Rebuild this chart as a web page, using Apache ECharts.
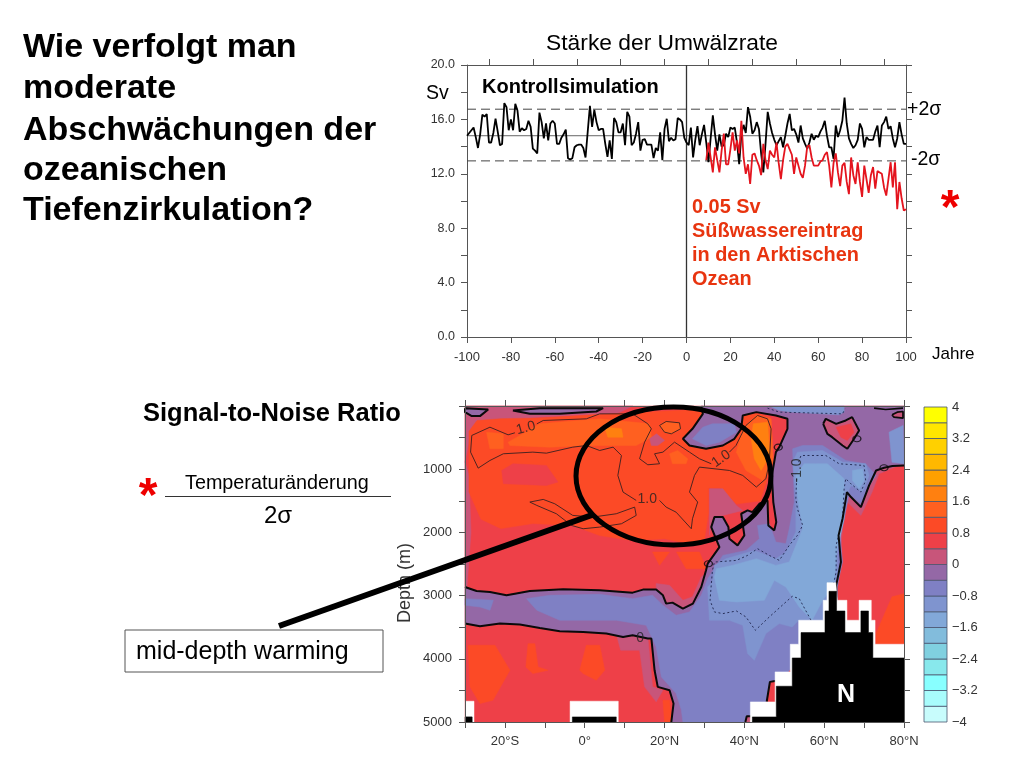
<!DOCTYPE html>
<html>
<head>
<meta charset="utf-8">
<title>Umwälzrate</title>
<script src="https://cdn.jsdelivr.net/npm/echarts@6/dist/echarts.min.js"></script>
<style>
  html, body { margin: 0; padding: 0; background: #fff; }
  #chart { width: 1024px; height: 768px; }
</style>
</head>
<body>
<div id="chart"></div>
<script>
// Time series, Sv, one value per year
const controlStartYear = -100;
const controlValues = [
  14.8, 15.0, 15.2, 15.4, 14.7, 13.9, 14.9, 16.35, 16.2, 16.4,
  14.3, 14.3, 15.0, 16.05, 15.1, 14.1, 14.2, 17.2, 16.9, 15.2,
  16.0, 15.2, 17.15, 16.65, 15.1, 15.35, 15.2, 15.3, 15.9, 15.45,
  13.85, 13.7, 13.5, 16.5, 15.8, 14.6, 15.7, 14.45, 15.7, 15.9,
  15.7, 14.2, 14.2, 14.65, 14.9, 15.25, 13.15, 13.05, 13.15, 13.95,
  14.1, 14.15, 14.15, 13.9, 13.2, 15.1, 17.0, 15.45, 16.7, 15.8,
  15.2, 15.3, 15.3, 14.2, 13.25, 14.45, 13.1, 16.1, 15.8, 15.05,
  15.05, 15.7, 14.1, 16.55, 16.2, 14.1, 14.3, 14.95, 15.8, 13.7,
  14.5, 14.55, 14.15, 14.15, 14.15, 13.15, 13.9, 13.7, 15.05, 13.0,
  15.3, 16.05, 14.4, 14.65, 14.45, 14.55, 16.1, 16.0, 15.8, 14.65,
  14.3, 14.1, 15.4, 13.2, 14.5, 15.5, 14.1, 14.9, 15.6, 14.3,
  12.85, 14.6, 16.3, 14.9, 13.7, 14.9, 14.0, 14.1, 14.95, 14.7,
  15.4, 15.3, 15.4, 14.3, 12.7, 14.9, 15.6, 15.0, 16.9, 16.2,
  14.95, 15.2, 15.8, 15.3, 13.5, 12.1, 14.2, 16.55, 15.7, 15.0,
  14.5, 14.1, 14.4, 14.7, 13.95, 14.8, 15.7, 16.4, 15.2, 15.3,
  14.9, 14.3, 15.55, 14.6, 14.2, 13.85, 14.3, 14.95, 14.5, 14.8,
  14.7, 15.1, 15.4, 15.9, 14.8, 13.95, 13.95, 13.1, 15.55, 14.7,
  15.2, 15.9, 17.6, 15.7, 14.6, 14.2, 13.9, 14.1, 14.5, 15.7,
  15.3, 13.95, 14.7, 14.5, 14.5, 14.5, 15.1, 15.55, 13.95, 15.55,
  15.8, 16.2, 15.3, 15.5, 14.6, 13.95, 14.6, 15.8, 14.9, 14.2, 14.2
];
const forcedStartYear = 9;
const forcedValues = [
  13.0, 14.3, 13.2, 12.1, 13.95, 13.0, 12.1, 13.7, 14.95, 12.7,
  12.7, 13.8, 15.05, 13.7, 14.45, 13.5, 15.9, 13.2, 12.0, 12.7,
  11.25, 13.4, 13.5, 13.0, 12.6, 11.9, 14.2, 13.0, 12.35, 13.7,
  13.4, 13.2, 14.3, 12.8, 11.6, 13.0, 14.0, 14.2, 13.8, 13.4,
  12.0, 13.2, 12.6, 12.0, 11.7, 12.6, 14.0, 14.1, 13.2, 12.6,
  12.6, 12.6, 12.9, 13.0, 13.4, 13.6, 12.6, 11.0, 12.8, 13.5,
  12.1, 11.1, 12.6, 12.8, 11.4, 10.5, 13.2, 11.9, 11.25, 12.85,
  11.4, 10.3, 12.6, 11.6, 10.6, 11.9, 12.5, 10.9, 12.2, 12.1,
  12.0, 11.0, 10.4, 11.6, 12.85, 11.0, 12.85, 9.4, 11.4, 10.2,
  9.3, 9.4
];
const controlMean = 14.8;
const upperSigma = 16.75;
const lowerSigma = 12.95;

// Colour scale of the section, from -4 up to 4 in steps of 0.4
const levelBounds = [-4, -3.6, -3.2, -2.8, -2.4, -2, -1.6, -1.2, -0.8, -0.4, 0, 0.4, 0.8, 1.2, 1.6, 2, 2.4, 2.8, 3.2, 3.6, 4];
const levelColors = ['#c8fcfc', '#a8fcfc', '#88ffff', '#88e8ec', '#80d0e0', '#82bcdc', '#82a8d8', '#7f94cf', '#7f80c4', '#9468a6',
  '#c8557a', '#ee4048', '#fc4a26', '#ff6020', '#ff8010', '#ffa000', '#ffb800', '#ffd000', '#ffe600', '#ffff00'];

// Section shapes as [latitude, depth]
const plotFrame = [[-30, 0], [80, 0], [80, 5000], [-30, 5000]];
const mauveTopWest = [[-30, 0], [12, 0], [8, 124], [-11.25, 176], [-19.6, 230], [-26.25, 282], [-28.75, 466], [-30, 888]];
const mauveLeftEdge = [[-30, 888], [-29, 1100], [-28.5, 2000], [-29.5, 2864], [-30, 2864]];
const warmMain = [[-29, 400], [-27, 230], [-21, 200], [-11, 190], [4, 130], [14, 100], [28, 60], [40, 60], [46.5, 180], [47, 500], [46.5, 1000],
  [44, 1500], [38, 1550], [34, 1300], [31, 1300], [31, 1700], [30, 2100], [27, 2200], [24, 2150], [20, 2100], [12, 2130], [3.75, 2050],
  [-3, 1890], [-13, 1860], [-21, 1940], [-26, 1790], [-29, 1360]];
const warmHole = [[-20.8, 1020], [-18, 914], [-9.6, 940], [-6.7, 1204], [-9.6, 1257], [-20.4, 1230]];
const warmSpotA = [[17, 2311], [21.25, 2311], [18.75, 2520]];
const warmSpotB = [[23, 2311], [28.75, 2311], [30.4, 2575], [25.4, 2575]];
const orangeWest = [[-24.6, 414], [-20.4, 440], [-20.4, 677], [-23.75, 677]];
const orangeBand = [[-19.2, 572], [-17, 493], [-11.25, 282], [3.75, 203], [16.25, 282], [16.7, 493], [12.9, 625], [0.4, 625], [-8.75, 651], [-18.75, 625]];
const orangeSmall = [[21.25, 756], [23.3, 704], [25.8, 835], [25.4, 914], [22, 914]];
const orangeEast = [[39.6, 361], [43, 150], [46.7, 203], [47.25, 888], [44.6, 1178], [40.4, 1020], [38, 730]];
const orangeLoop = [[18.75, 308], [20.4, 245], [23.75, 266], [24, 361], [21.7, 440], [20, 414]];
const darkOrangeEast = [[42.25, 282], [45.8, 256], [46.4, 783], [44.2, 1020], [42.5, 835], [41.7, 519]];
const darkOrangeCentral = [[5, 335], [9.2, 361], [9.6, 493], [5.8, 493]];
const mauveSpot = [[16.25, 519], [18, 440], [20, 545], [18.3, 625], [16.7, 625]];
const warmSouthMauve = [[31.25, 1310], [34.6, 1310], [38, 1573], [39.6, 1652], [34.6, 1731], [32, 1784], [31.25, 2047]];
const deepWarmA = [[-29.2, 3786], [-22.5, 3786], [-18.75, 4181], [-23, 4655], [-26.25, 4708], [-28.75, 4444]];
const deepWarmB = [[-14.2, 3760], [-12.5, 3760], [-11.7, 4128], [-9.2, 4181], [-13, 4234], [-14.75, 4128]];
const deepWarmC = [[0.4, 3786], [3.75, 3786], [5, 4181], [2.9, 4339], [-0.4, 4234], [-1.25, 4181]];
const deepWarmD = [[73, 3760], [73, 3600], [77, 3020], [80, 2970], [80, 3760]];
const deepWarmE = [[19.6, 4655], [21.25, 4655], [21.7, 5000], [20, 5000]];
const mauveLower = [[8, 3628], [15.8, 3654], [17, 4444], [19.6, 4497], [17.9, 4681], [15, 4444], [13.75, 3865], [9, 3865]];
const mauveTrough = [[17.9, 2810], [21.25, 2837], [24.6, 3074], [27, 3020], [29.2, 2705], [30.8, 2620], [31, 3000], [22, 3300], [18, 3100]];
const mauveEast = [[79.75, 915], [73.75, 1072], [72, 1362], [69.2, 1731], [65.8, 1520], [64.6, 1942], [64, 2364], [63.5, 2838], [60, 2838], [60, 900]];

// Zero contour, also the edge of the cold water
const zeroWest = [[-30, 2864], [-27.1, 2927], [-23.75, 2943], [-19.6, 2995], [-17.5, 2970], [-13.75, 2927], [-5.4, 2900], [3.75, 2916], [12, 2953],
  [14.6, 2905], [17.9, 2905], [19.6, 2995], [20.4, 3127], [22, 3111], [24.6, 3206], [27.1, 3127], [29.2, 2864], [30.4, 2600], [30.8, 2495],
  [33.75, 2232], [31.7, 1916], [32.5, 1758], [34.6, 1758], [36, 1916], [36.25, 2100], [38.3, 2205], [40, 2047], [39.2, 1705], [40.8, 1652],
  [42, 1680], [43.75, 1547], [45.8, 1494], [46, 1890], [47.5, 1968], [48, 1837], [47.25, 1520], [46.9, 1099], [47.9, 730], [48.75, 650],
  [50.8, 361], [50.8, 203], [47.9, 150], [43, 97], [39.6, 150], [39.2, 361], [37.5, 519], [34.6, 625], [30.4, 677], [26.25, 625], [24.6, 519],
  [27, 361], [29.6, 124], [29.2, 0]];
const zeroEast = [[80, 941], [77.1, 951], [75, 978], [73, 1020], [71.25, 1257], [69.2, 1600], [66.7, 1441], [65.7, 1362], [64.6, 1784], [63.6, 2047],
  [64.2, 2469], [63, 2838], [63, 3127]];
const zeroDeep = [[21.7, 5000], [22.25, 4708], [21.25, 4497], [18.3, 4444], [17.5, 4181], [16.7, 3680], [15.8, 3680], [12, 3628], [9.6, 3654], [5.4, 3601],
  [-0.4, 3575], [-6.25, 3564], [-11.25, 3512], [-16.25, 3459], [-21.25, 3443], [-26.25, 3485], [-30, 3443]];
const coldCornerNE = [[80, 0]];
const coldCornerS = [[40.4, 5000]];

const blueMid = [[-14.6, 3048], [-8.75, 2995], [3.75, 2980], [12, 3048], [17, 2995], [19.6, 3153], [22.9, 3311], [26.25, 3259], [29.2, 2995], [30.8, 2732],
  [34.6, 2364], [40.4, 2285], [43.75, 2100], [43.3, 1890], [46.25, 1863], [47.9, 2153], [50.4, 2179], [51.25, 1942], [52.5, 1520], [52.1, 677],
  [54.6, 625], [59.6, 625], [65.4, 862], [70.4, 915], [73, 1099], [70.8, 1310], [69.2, 1547], [66.25, 1389], [65, 1784], [64, 2047], [64.6, 2469],
  [63.3, 2838], [63.3, 3127], [42, 5000], [24.6, 5000], [24.2, 4807], [22.9, 4550], [19.2, 4286], [17.9, 3812], [15.4, 3470], [7.9, 3390], [-6.25, 3390], [-12, 3232]];
const blueWestPatch = [[-30, 3048], [-22.9, 3074], [-23.75, 3232], [-26.25, 3180], [-30, 3153]];
const bluePocket = [[27, 519], [29.6, 335], [32, 282], [37.5, 282], [38, 414], [33.75, 572], [30.4, 625]];
const blueLight = [[32, 2785], [32.5, 2522], [35.4, 2416], [42.5, 2285], [47.9, 2416], [50.4, 2311], [52.9, 1995], [52.9, 1468], [52.1, 888], [53.3, 730],
  [59.6, 704], [64.6, 888], [70.4, 915], [71.25, 1099], [69.6, 1362], [66.7, 1257], [65.8, 1389], [64.2, 1837], [63.3, 2205], [63.3, 2838], [61.25, 3127],
  [60.4, 3390], [53.6, 3390], [52, 3496], [48.75, 3443], [45.4, 3600], [42.5, 4023], [40.8, 3917], [39.6, 3470], [36.25, 3390], [31.25, 3390], [30.8, 2864]];
const blueTopStrip = [[46.25, 0], [65, 0], [65, 97], [63.75, 140], [52, 97], [48.75, 70]];
const blueNorthPatch = [[76.25, 414], [79.75, 308], [80, 915], [77, 890]];
const blueCore = [[52.9, 1099], [55, 915], [57.9, 915], [60.8, 915], [65, 1150], [65, 1784], [63, 2364], [62.5, 2838], [59.6, 3074], [57, 3390], [53.75, 3180],
  [50.4, 2864], [47.5, 2758], [45, 3074], [38, 3100], [33.75, 3074], [32.5, 2705], [33, 2575], [37, 2522], [43, 2416], [47.9, 2522], [51.25, 2469],
  [54.6, 1942], [53.3, 1415]];
const blueCorePatch = [[67.1, 1020], [69.6, 993], [70, 1178], [68.75, 1310], [67.1, 1178]];

const loopNorth = [[59.75, 282], [60.4, 203], [63, 282], [65.4, 229], [67, 176], [68.75, 387], [67.5, 519], [65.8, 677], [64.6, 625], [62, 493], [60.8, 440]];
const loopNorthCore = [[63, 335], [66.7, 282], [67.5, 414], [65.8, 545], [64.2, 493]];
const loopCorner = [[77, 140], [78.3, 97], [79.75, 87], [79.75, 192], [77.5, 176]];
const loopSurfaceA = [[-30, 34], [-24.2, 55], [-26.25, 160], [-28.3, 160], [-30, 97]];
const loopSurfaceB = [[-18, 71], [-11.25, 34], [4.6, 34], [2.9, 87], [-6.25, 124], [-13.75, 124]];
const sliverBottom = [[45.6, 4680], [46.4, 4365], [47.7, 4350], [48, 4680]];
const boxBottom = [[40.25, 5000], [40.6, 4908], [42, 4908], [42.5, 5000]];

// Bottom topography: white is missing data, black is land
const maskNorth = [[41.5, 5000], [41.5, 4682], [47.7, 4682], [47.7, 4207], [51.5, 4207], [51.5, 3770], [53.6, 3770], [53.6, 3390], [59.75, 3390], [59.75, 3074],
  [60.7, 3074], [60.7, 2795], [62.9, 2795], [63.3, 3074], [65.7, 3074], [65.7, 3390], [68.75, 3390], [68.75, 3074], [71.8, 3074], [71.8, 3390],
  [72.75, 3390], [72.75, 3770], [80, 3770], [80, 5000]];
const landNorth = [[42, 5000], [42, 4919], [48, 4919], [48, 4434], [52, 4434], [52, 3986], [54.2, 3986], [54.2, 3585], [60.2, 3585], [60.2, 3243],
  [61.2, 3243], [61.2, 2932], [63.1, 2932], [63.1, 3243], [65.2, 3243], [65.2, 3585], [69.2, 3585], [69.2, 3243], [71.1, 3243], [71.1, 3585],
  [72.2, 3585], [72.2, 3986], [80, 3986], [80, 5000]];
const maskWest = [[-30, 4671], [-27.75, 4671], [-27.75, 5000], [-30, 5000]];
const landWest = [[-30, 4919], [-28.2, 4919], [-28.2, 5000], [-30, 5000]];
const maskEquator = [[-3.67, 4671], [8.4, 4671], [8.4, 5000], [-3.67, 5000]];
const landEquator = [[-3.1, 4919], [7.9, 4919], [7.9, 5000], [-3.1, 5000]];

// Thin contours
const onePartA = [[-17.5, 424], [-19.2, 456], [-23.75, 335], [-28.3, 466], [-28.6, 730], [-26.7, 983], [-23.75, 862], [-20.4, 756], [-13, 730], [-9.6, 746],
  [-3, 651], [0.4, 625], [3.75, 704], [7.1, 651], [9.2, 783], [8.3, 1099], [9.6, 1362], [12.9, 1494]];
const onePartB = [[-12, 282], [-10.4, 229], [0.4, 203], [3.75, 124], [12, 124], [15.8, 282], [16.7, 361], [15, 572], [13.75, 835], [15.8, 930], [18.75, 914],
  [17.5, 756], [19.6, 730], [22.5, 572], [26.25, 730], [28.75, 835], [31.7, 914]];
const onePartC = [[36.25, 730], [37.9, 625], [40.4, 308], [43.3, 150], [45.8, 203], [46.7, 361], [46.25, 888], [45.4, 1150], [43, 1283], [39.6, 1099], [36.25, 1020],
  [28.75, 967], [27.5, 1099], [26.25, 1362], [28.3, 1520], [27, 1784], [26.7, 1942], [22.9, 1680], [20.4, 1600], [18.75, 1494]];
const oneLoopLower = [[-13.75, 1520], [-10.4, 1478], [-7.5, 1547], [-3, 1731], [2, 1758], [7.9, 1705], [12.5, 1600], [12.9, 1731], [9.2, 1863], [3.75, 1916],
  [-0.4, 1942], [-3.3, 1890], [-7.1, 1705], [-12, 1573], [-13.75, 1520]];
const minusOneA = [[53.1, 1150], [52.9, 1468], [53.3, 1626], [54.6, 1889], [53.3, 2047], [51.25, 2205], [48.75, 2443], [46.25, 2364], [43.3, 2258], [40.8, 2364],
  [38, 2443], [32.5, 2469], [32, 2600], [31.4, 3074], [32.5, 3259], [34.6, 3285], [38, 3243], [40.4, 3338], [42.75, 3549], [46.25, 3338], [52, 3011],
  [53.75, 3048], [55.8, 3285], [56.7, 3390]];
const minusOneB = [[53.6, 888], [54.2, 783], [60.4, 783], [63.75, 914], [70, 941], [70.4, 1178], [69.2, 1362], [66.7, 1231], [65.4, 1150], [65, 1310], [64.6, 1784],
  [63, 2205], [63, 2627], [62.25, 2838]];
const minusOneC = [[45.8, 34], [48.75, 97], [64.6, 124], [65.2, 45]];
const sliverContour = [[45.6, 4680], [46.4, 4365], [47.7, 4350], [48.4, 4365]];
const boxContour = [[40.25, 5000], [40.6, 4908], [42, 4908]];
const cornerLine = [[72.5, 34], [75.4, 55], [79.75, 34]];

const contourLabels = [[-14.75, 350, '1.0', 15], [15.65, 1478, '1.0', 0], [34.2, 835, '1.0', 35], [53.1, 1020, '-1.0', 90], [13.9, 3670, '0', 0]];
const zeroMarks = [[48.5, 651], [68.2, 519], [75, 978], [31, 2495]];

// Painted in this order, each with the lower bound of its colour class
const fieldLayers = [
  [0.4, plotFrame], [0, mauveTopWest], [0, mauveLeftEdge], [0.8, warmMain], [0.4, warmHole], [0.8, warmSpotA], [0.8, warmSpotB],
  [1.2, orangeWest], [1.2, orangeBand], [1.2, orangeSmall], [1.2, orangeEast], [1.2, orangeLoop], [1.6, darkOrangeEast], [1.6, darkOrangeCentral],
  [0, mauveSpot], [0, warmSouthMauve], [0.8, deepWarmA], [0.8, deepWarmB], [0.8, deepWarmC], [0.8, deepWarmD], [0.8, deepWarmE],
  [0, mauveLower], [0, mauveTrough], [0, mauveEast],
  [-0.4, zeroWest.concat(coldCornerNE, zeroEast, coldCornerS, zeroDeep)],
  [-0.8, blueMid], [-0.8, blueWestPatch], [-0.8, bluePocket],
  [-1.2, blueLight], [-1.2, blueTopStrip], [-1.2, blueNorthPatch],
  [-1.6, blueCore], [-1.6, blueCorePatch],
  [0, loopNorth], [0.4, loopNorthCore], [0, loopCorner], [-0.4, loopSurfaceA], [-0.4, loopSurfaceB], [0.4, sliverBottom], [0, boxBottom]
];
const maskLayers = [maskNorth, maskWest, maskEquator];
const landLayers = [landNorth, landWest, landEquator];

const textFont = '"Liberation Sans", Arial, sans-serif';

function colorForLevel(level) {
  return levelColors[levelBounds.findIndex(b => Math.abs(b - level) < 0.01)];
}

function polygonSeries(polygons, colors, z) {
  return {
    type: 'custom',
    xAxisIndex: 2,
    yAxisIndex: 2,
    z: z,
    silent: true,
    data: polygons.map((p, i) => [p[0][0], p[0][1], i]),
    renderItem: function(params, api) {
      const i = api.value(2);
      return {
        type: 'polygon',
        shape: { points: polygons[i].map(p => api.coord(p)) },
        style: { fill: colors[i], stroke: colors[i], lineWidth: 0.5 }
      };
    }
  };
}

function contourSeries(points, color, width, type, z) {
  return {
    type: 'line',
    xAxisIndex: 2,
    yAxisIndex: 2,
    z: z || 5,
    data: points,
    symbol: 'none',
    silent: true,
    lineStyle: { color: color, width: width, type: type || 'solid' }
  };
}

function levelSeries(value, type, color) {
  return {
    type: 'line',
    xAxisIndex: 0,
    yAxisIndex: 0,
    data: [[-100, value], [100, value]],
    symbol: 'none',
    silent: true,
    z: 1,
    lineStyle: { color: color, width: 1, type: type }
  };
}

function label(text, x, y, size, extra) {
  return {
    type: 'text',
    z: 60,
    silent: true,
    rotation: extra && extra.rotation || 0,
    x: extra && extra.rotation ? x : 0,
    y: extra && extra.rotation ? y : 0,
    style: {
      text: text,
      x: extra && extra.rotation ? 0 : x,
      y: extra && extra.rotation ? 0 : y,
      font: (extra && extra.bold ? 'bold ' : '') + size + 'px ' + textFont,
      fill: extra && extra.color || '#000',
      textAlign: extra && extra.align || 'left',
      textVerticalAlign: 'middle'
    }
  };
}

const axisGray = '#555';
const smallLabel = { fontFamily: textFont, fontSize: 13, color: '#333' };

function frameAxis(extra) {
  return Object.assign({
    type: 'value',
    splitLine: { show: false },
    axisLine: { show: true, onZero: false, lineStyle: { color: axisGray, width: 1 } },
    axisTick: { show: true, length: 6, lineStyle: { color: axisGray, width: 1 } },
    axisLabel: { show: false }
  }, extra);
}

const chart = echarts.init(document.getElementById('chart'));

chart.setOption({
  backgroundColor: '#fff',
  animation: false,
  grid: [
    { left: 467, top: 65, width: 439, height: 272 },
    { left: 465, top: 406, width: 439, height: 316 },
    { left: 924, top: 407, width: 23, height: 315 }
  ],
  xAxis: [
    frameAxis({ gridIndex: 0, position: 'bottom', min: -100, max: 100, interval: 20, axisLabel: { show: true, margin: 14, ...smallLabel } }),
    frameAxis({ gridIndex: 0, position: 'top', min: -100, max: 100, interval: 10, axisTick: { show: true, length: 6, customValues: [-90, -70, -50, -30, -10, 10, 30, 50, 70, 90], lineStyle: { color: axisGray } } }),
    frameAxis({
      gridIndex: 1, position: 'bottom', min: -30, max: 80, interval: 10, z: 8,
      axisLabel: {
        show: true, margin: 13, ...smallLabel,
        formatter: v => v === 0 ? '0°' : v % 20 !== 0 ? '' : Math.abs(v) + (v < 0 ? '°S' : '°N')
      }
    }),
    frameAxis({ gridIndex: 1, position: 'top', min: -30, max: 80, interval: 10, z: 8 }),
    { gridIndex: 2, type: 'value', min: 0, max: 1, show: false }
  ],
  yAxis: [
    frameAxis({
      gridIndex: 0, position: 'left', min: 0, max: 20, interval: 2,
      axisLabel: { show: true, margin: 12, ...smallLabel, fontSize: 12.5, formatter: v => v % 4 === 0 ? v.toFixed(1) : '' }
    }),
    frameAxis({ gridIndex: 0, position: 'right', min: 0, max: 20, interval: 2 }),
    frameAxis({
      gridIndex: 1, position: 'left', min: 0, max: 5000, interval: 500, inverse: true, z: 8,
      axisLabel: { show: true, margin: 13, ...smallLabel, formatter: v => v > 0 && v % 1000 === 0 ? String(v) : '' }
    }),
    frameAxis({ gridIndex: 1, position: 'right', min: 0, max: 5000, interval: 500, inverse: true, z: 8 }),
    {
      gridIndex: 2, type: 'value', position: 'right', min: -4, max: 4, interval: 0.8,
      splitLine: { show: false }, axisLine: { show: false }, axisTick: { show: false },
      axisLabel: {
        margin: 5, ...smallLabel,
        formatter: v => {
          const r = Math.round(v * 10) / 10;
          return r < 0 ? '−' + (-r) : String(r);
        }
      }
    }
  ],
  series: [
    // Upper panel
    levelSeries(controlMean, 'solid', '#666'),
    levelSeries(upperSigma, [9, 5], '#444'),
    levelSeries(lowerSigma, [9, 5], '#444'),
    {
      type: 'line', xAxisIndex: 0, yAxisIndex: 0, symbol: 'none', silent: true, z: 2,
      data: [[0, 0], [0, 20]],
      lineStyle: { color: '#333', width: 1.3 }
    },
    {
      name: 'Kontrollsimulation', type: 'line', xAxisIndex: 0, yAxisIndex: 0, symbol: 'none', silent: true, z: 3,
      data: controlValues.map((v, i) => [controlStartYear + i, v]),
      lineStyle: { color: '#000', width: 1.8 }
    },
    {
      name: '0.05 Sv', type: 'line', xAxisIndex: 0, yAxisIndex: 0, symbol: 'none', silent: true, z: 4,
      data: forcedValues.map((v, i) => [forcedStartYear + i, v]),
      lineStyle: { color: '#e4141e', width: 1.8 }
    },

    // Lower panel
    polygonSeries(fieldLayers.map(l => l[1]), fieldLayers.map(l => colorForLevel(l[0])), 2),
    contourSeries(onePartA, '#3a2020', 0.9),
    contourSeries(onePartB, '#3a2020', 0.9),
    contourSeries(onePartC, '#3a2020', 0.9),
    contourSeries(oneLoopLower, '#3a2020', 0.9),
    contourSeries(orangeLoop.concat([orangeLoop[0]]), '#3a2020', 0.9),
    contourSeries(minusOneA, '#28305a', 1, [2, 2.5]),
    contourSeries(minusOneB, '#28305a', 1, [2, 2.5]),
    contourSeries(minusOneC, '#28305a', 1, [2, 2.5]),
    contourSeries(zeroWest, '#0a0a0a', 2),
    contourSeries(zeroEast, '#0a0a0a', 2),
    contourSeries(zeroDeep, '#0a0a0a', 2),
    contourSeries(loopNorth.concat([loopNorth[0]]), '#0a0a0a', 2),
    contourSeries(loopCorner.concat([loopCorner[0]]), '#0a0a0a', 1.7),
    contourSeries(loopSurfaceA.concat([loopSurfaceA[0]]), '#0a0a0a', 2),
    contourSeries(loopSurfaceB.concat([loopSurfaceB[0]]), '#0a0a0a', 2),
    contourSeries(sliverContour, '#0a0a0a', 2),
    contourSeries(boxContour, '#0a0a0a', 2),
    contourSeries(cornerLine, '#0a0a0a', 1.7),
    {
      type: 'scatter', xAxisIndex: 2, yAxisIndex: 2, z: 5, silent: true,
      data: zeroMarks,
      symbol: 'circle',
      symbolSize: [8, 6],
      itemStyle: { color: 'rgba(0,0,0,0)', borderColor: '#0a0a0a', borderWidth: 1.2 }
    },
    {
      type: 'scatter', xAxisIndex: 2, yAxisIndex: 2, z: 6, silent: true,
      symbolSize: 0,
      data: contourLabels.map(c => ({
        value: [c[0], c[1]],
        label: { show: true, position: 'inside', formatter: c[2], rotate: c[3], fontFamily: textFont, fontSize: 14, color: '#222' }
      }))
    },
    polygonSeries(maskLayers, maskLayers.map(() => '#fff'), 6),
    polygonSeries(landLayers, landLayers.map(() => '#000'), 7),

    // Colour bar
    {
      type: 'custom', xAxisIndex: 4, yAxisIndex: 4, z: 3, silent: true,
      data: levelColors.map((c, i) => [0, levelBounds[i], levelBounds[i + 1], i]),
      renderItem: function(params, api) {
        const low = api.coord([0, api.value(1)]);
        const high = api.coord([1, api.value(2)]);
        return {
          type: 'rect',
          shape: { x: low[0], y: high[1], width: high[0] - low[0], height: low[1] - high[1] },
          style: { fill: levelColors[api.value(3)], stroke: '#4a5570', lineWidth: 0.8 }
        };
      }
    }
  ],
  graphic: [
    label('Wie verfolgt man', 23, 48, 34, { bold: true }),
    label('moderate', 23, 89, 34, { bold: true }),
    label('Abschwächungen der', 23, 131, 34, { bold: true }),
    label('ozeanischen', 23, 171, 34, { bold: true }),
    label('Tiefenzirkulation?', 23, 211, 34, { bold: true }),

    label('Stärke der Umwälzrate', 662, 44, 22.8, { align: 'center' }),
    label('Kontrollsimulation', 482, 87, 20, { bold: true }),
    label('Sv', 426, 94, 19.5),
    label('+2σ', 907, 110, 19.5),
    label('-2σ', 911, 160, 19.5),
    label('*', 950, 210, 48, { bold: true, color: '#ee0000', align: 'center' }),
    label('0.05 Sv', 692, 208, 19.9, { bold: true, color: '#e8340f' }),
    label('Süßwassereintrag', 692, 232, 19.9, { bold: true, color: '#e8340f' }),
    label('in den Arktischen', 692, 256, 19.9, { bold: true, color: '#e8340f' }),
    label('Ozean', 692, 280, 19.9, { bold: true, color: '#e8340f' }),
    label('Jahre', 932, 354, 17),

    label('Signal-to-Noise Ratio', 143, 414, 25.5, { bold: true }),
    label('*', 148, 498, 48, { bold: true, color: '#ee0000', align: 'center' }),
    label('Temperaturänderung', 185, 484, 19.8),
    { type: 'line', z: 60, silent: true, shape: { x1: 165, y1: 496.5, x2: 391, y2: 496.5 }, style: { stroke: '#333', lineWidth: 1 } },
    label('2σ', 278, 516, 24, { align: 'center' }),
    label('Depth (m)', 405, 583, 18, { rotation: Math.PI / 2, align: 'center', color: '#333' }),

    { type: 'ellipse', z: 70, silent: true, shape: { cx: 673.5, cy: 476, rx: 97.5, ry: 69 }, style: { fill: 'none', stroke: '#000', lineWidth: 5 } },
    { type: 'line', z: 70, silent: true, shape: { x1: 279, y1: 626, x2: 592, y2: 515 }, style: { stroke: '#000', lineWidth: 6 } },
    { type: 'rect', z: 70, silent: true, shape: { x: 125, y: 630, width: 258, height: 42 }, style: { fill: '#fff', stroke: '#555', lineWidth: 1 } },
    { ...label('mid-depth warming', 136, 652, 25), z: 71 },
    { ...label('N', 846, 695, 25, { bold: true, color: '#fff', align: 'center' }), z: 71 }
  ]
});
</script>
</body>
</html>
